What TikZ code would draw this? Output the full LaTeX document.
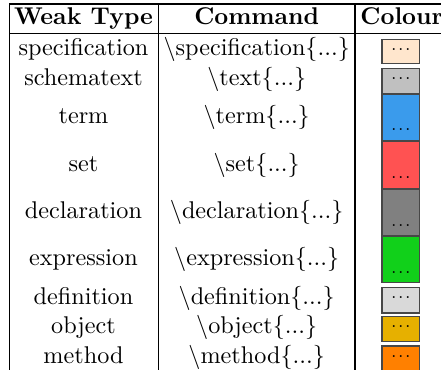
\documentclass[tikz,border=0pt]{standalone}
\definecolor{cspec}{RGB}{255,230,205}
\definecolor{cschema}{RGB}{192,192,192}
\definecolor{cterm}{RGB}{58,155,236}
\definecolor{cset}{RGB}{255,82,82}
\definecolor{cdecl}{RGB}{128,128,128}
\definecolor{cexpr}{RGB}{17,208,26}
\definecolor{cdef}{RGB}{217,217,217}
\definecolor{cobj}{RGB}{230,176,0}
\definecolor{cmeth}{RGB}{255,128,0}
\begin{document}
\begin{tikzpicture}[x=0.4132pt,y=-0.4132pt,
  rule/.style={line width=0.45pt,black},
  lbl/.style={anchor=base,inner sep=0pt,font=\fontsize{10}{12}\selectfont},
  hdr/.style={anchor=base,inner sep=0pt,font=\fontsize{10}{12}\selectfont\bfseries},
  swatch/.style={draw=black!72,line width=0.45pt},
  dotsbox/.style={anchor=base,inner sep=0pt,font=\fontsize{7}{8}\selectfont}]
\useasboundingbox (0,0) rectangle (441,370);
% rules
\coordinate (tl) at (9.5,4);
\coordinate (tr) at (441,4);
\coordinate (hl) at (9.5,33.5);
\coordinate (hr) at (441,33.5);
\draw[rule] (tl) -- (tr);
\draw[rule] (hl) -- (hr);
\draw[rule] (9.5,4) -- (9.5,370);
\draw[rule] (158.5,4) -- (158.5,370);
\draw[rule] (355,4) -- (355,370);
% header
\node[hdr] (h1) at (83.5,25) {Weak Type};
\node[hdr] (h2) at (256.7,25) {Command};
\node[hdr,anchor=base west] (h3) at (360,25) {Colour};
% column 1
\node[lbl] (t1) at (83.5,55.5) {specification};
\node[lbl] (t2) at (83.5,85.5) {schematext};
\node[lbl] (t3) at (83.5,124) {term};
\node[lbl] (t4) at (83.5,171.5) {set};
\node[lbl] (t5) at (83.5,218.3) {declaration};
\node[lbl] (t6) at (83.5,265.6) {expression};
\node[lbl] (t7) at (83.5,304.5) {definition};
\node[lbl] (t8) at (83.5,333.5) {object};
\node[lbl] (t9) at (83.5,363.5) {method};
% column 2
\node[lbl] (c1) at (256.7,55.5) {\textbackslash specification\{...\}};
\node[lbl] (c2) at (256.7,85.5) {\textbackslash text\{...\}};
\node[lbl] (c3) at (256.7,124) {\textbackslash term\{...\}};
\node[lbl] (c4) at (256.7,171.5) {\textbackslash set\{...\}};
\node[lbl] (c5) at (256.7,218.3) {\textbackslash declaration\{...\}};
\node[lbl] (c6) at (256.7,265.6) {\textbackslash expression\{...\}};
\node[lbl] (c7) at (256.7,304.5) {\textbackslash definition\{...\}};
\node[lbl] (c8) at (256.7,333.5) {\textbackslash object\{...\}};
\node[lbl] (c9) at (256.7,363.5) {\textbackslash method\{...\}};
% column 3 swatches
\newcommand{\swdots}{.\kern0.65pt.\kern0.65pt.}
\draw[swatch,fill=cspec]   (382,39.3)  rectangle (419.5,63.7);
\draw[swatch,fill=cschema] (382,68.5)  rectangle (419.5,93.8);
\draw[swatch,fill=cterm]   (382,94.3)  rectangle (419.5,140.7);
\draw[swatch,fill=cset]    (382,141.6) rectangle (419.5,188.3);
\draw[swatch,fill=cdecl]   (382,189.2) rectangle (419.5,235.7);
\draw[swatch,fill=cexpr]   (382,236.6) rectangle (419.5,282.7);
\draw[swatch,fill=cdef]    (382,287.3) rectangle (419.5,313);
\draw[swatch,fill=cobj]    (382,316.7) rectangle (419.5,341.5);
\draw[swatch,fill=cmeth]   (382,346)   rectangle (419.5,371.5);
\node[dotsbox] (d1) at (400.8,50.9)  {\swdots};
\node[dotsbox] (d2) at (400.8,79.6)  {\swdots};
\node[dotsbox] (d3) at (400.8,130.9) {\swdots};
\node[dotsbox] (d4) at (400.8,178.6) {\swdots};
\node[dotsbox] (d5) at (400.8,226.1) {\swdots};
\node[dotsbox] (d6) at (400.8,273.3) {\swdots};
\node[dotsbox] (d7) at (400.8,298.1) {\swdots};
\node[dotsbox] (d8) at (400.8,327.6) {\swdots};
\node[dotsbox] (d9) at (400.8,357.1) {\swdots};
\end{tikzpicture}
\end{document}
